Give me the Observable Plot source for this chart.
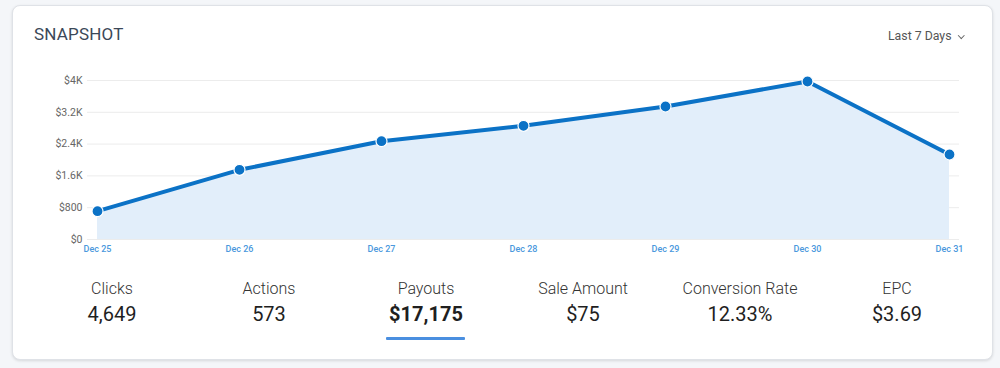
<!DOCTYPE html>
<html>
<head>
<meta charset="utf-8">
<script src="https://cdn.jsdelivr.net/npm/d3@7"></script>
<script src="https://cdn.jsdelivr.net/npm/@observablehq/plot@0.6"></script>
<style>
  html, body { margin: 0; padding: 0; }
  body { width: 1000px; height: 368px; background: #f4f6f9; position: relative; overflow: hidden; font-family: Roboto, "Noto Sans", sans-serif; }
  .card { position: absolute; left: 12px; top: 5px; width: 979px; height: 353px; background: #fff; border: 1px solid #dfe2e7; border-radius: 8px; box-shadow: 0 1px 3px rgba(0,0,0,0.12); }
  .abs { position: absolute; white-space: nowrap; line-height: 1; }
  #title { left: 34px; top: 26.4px; font-size: 17px; color: #3b4858; letter-spacing: 0.2px; }
  #range { left: 888px; top: 30.3px; font-size: 12.3px; color: #555; }
  #chev { position: absolute; left: 958.5px; top: 32.5px; width: 3.5px; height: 3.5px; border-right: 1.2px solid #666; border-bottom: 1.2px solid #666; transform: rotate(45deg); }
  #chart { position: absolute; left: 0; top: 60px; }
  .stat { position: absolute; width: 157px; text-align: center; }
  .stat .lab { position: absolute; left: 0; width: 157px; top: 280.5px; font-size: 16px; font-weight: 300; color: #333; line-height: 1; }
  .stat .val { position: absolute; left: 0; width: 157px; top: 304.2px; font-size: 20px; color: #1f1f1f; line-height: 1; }
  .stat .val.sel { font-weight: 700; }
  #uline { position: absolute; left: 386px; top: 337px; width: 79px; height: 3px; background: #4a8fe0; border-radius: 1px; }
</style>
</head>
<body>
<div class="card"></div>
<div id="title" class="abs">SNAPSHOT</div>
<div id="range" class="abs">Last 7 Days</div>
<div id="chev"></div>
<div id="chart"></div>
<div id="stats"></div>
<div id="uline"></div>
<script>
const days = ["Dec 25", "Dec 26", "Dec 27", "Dec 28", "Dec 29", "Dec 30", "Dec 31"];
const payouts = [712, 1753, 2473, 2860, 3346, 3975, 2138];
const yTicks = [0, 800, 1600, 2400, 3200, 4000];
const yTickLabels = ["$0", "$800", "$1.6K", "$2.4K", "$3.2K", "$4K"];
const statLabels = ["Clicks", "Actions", "Payouts", "Sale Amount", "Conversion Rate", "EPC"];
const statValues = ["4,649", "573", "$17,175", "$75", "12.33%", "$3.69"];
const selectedStat = "Payouts";

const data = days.map((d, i) => ({day: d, value: payouts[i]}));
const lineColor = "#0b72c6";

const chart = Plot.plot({
  width: 1000,
  height: 200,
  marginTop: 20,
  marginBottom: 21,
  marginLeft: 87,
  marginRight: 41,
  style: {fontFamily: "Roboto, sans-serif", background: "transparent", overflow: "visible"},
  x: {type: "point", domain: days, padding: 0, inset: 8.5, label: null},
  y: {domain: [0, 4000], label: null},
  marks: [
    Plot.gridY(yTicks, {stroke: "#ececec", strokeOpacity: 1, strokeWidth: 1}),
    Plot.areaY(data, {x: "day", y: "value", fill: "#e2eefa"}),
    Plot.lineY(data, {x: "day", y: "value", stroke: lineColor, strokeWidth: 4}),
    Plot.dot(data, {x: "day", y: "value", r: 5.5, fill: lineColor, stroke: "#fff", strokeWidth: 1.2}),
    Plot.axisY(yTicks, {tickSize: 0, tickPadding: 5, fontSize: 10.5, fill: "#666", tickFormat: (d) => yTickLabels[yTicks.indexOf(d)]}),
    Plot.axisX(days, {tickSize: 0, tickPadding: 6, fontSize: 9, fontWeight: 500, fill: "#4a98dd"})
  ]
});
document.getElementById("chart").appendChild(chart);

const stats = document.getElementById("stats");
statLabels.forEach((lab, i) => {
  const div = document.createElement("div");
  div.className = "stat";
  div.style.left = (33.5 + i * 157) + "px";
  div.style.top = "0px";
  const l = document.createElement("div");
  l.className = "lab";
  l.textContent = lab;
  const v = document.createElement("div");
  v.className = "val" + (lab === selectedStat ? " sel" : "");
  v.textContent = statValues[i];
  div.appendChild(l);
  div.appendChild(v);
  stats.appendChild(div);
});
</script>
</body>
</html>
